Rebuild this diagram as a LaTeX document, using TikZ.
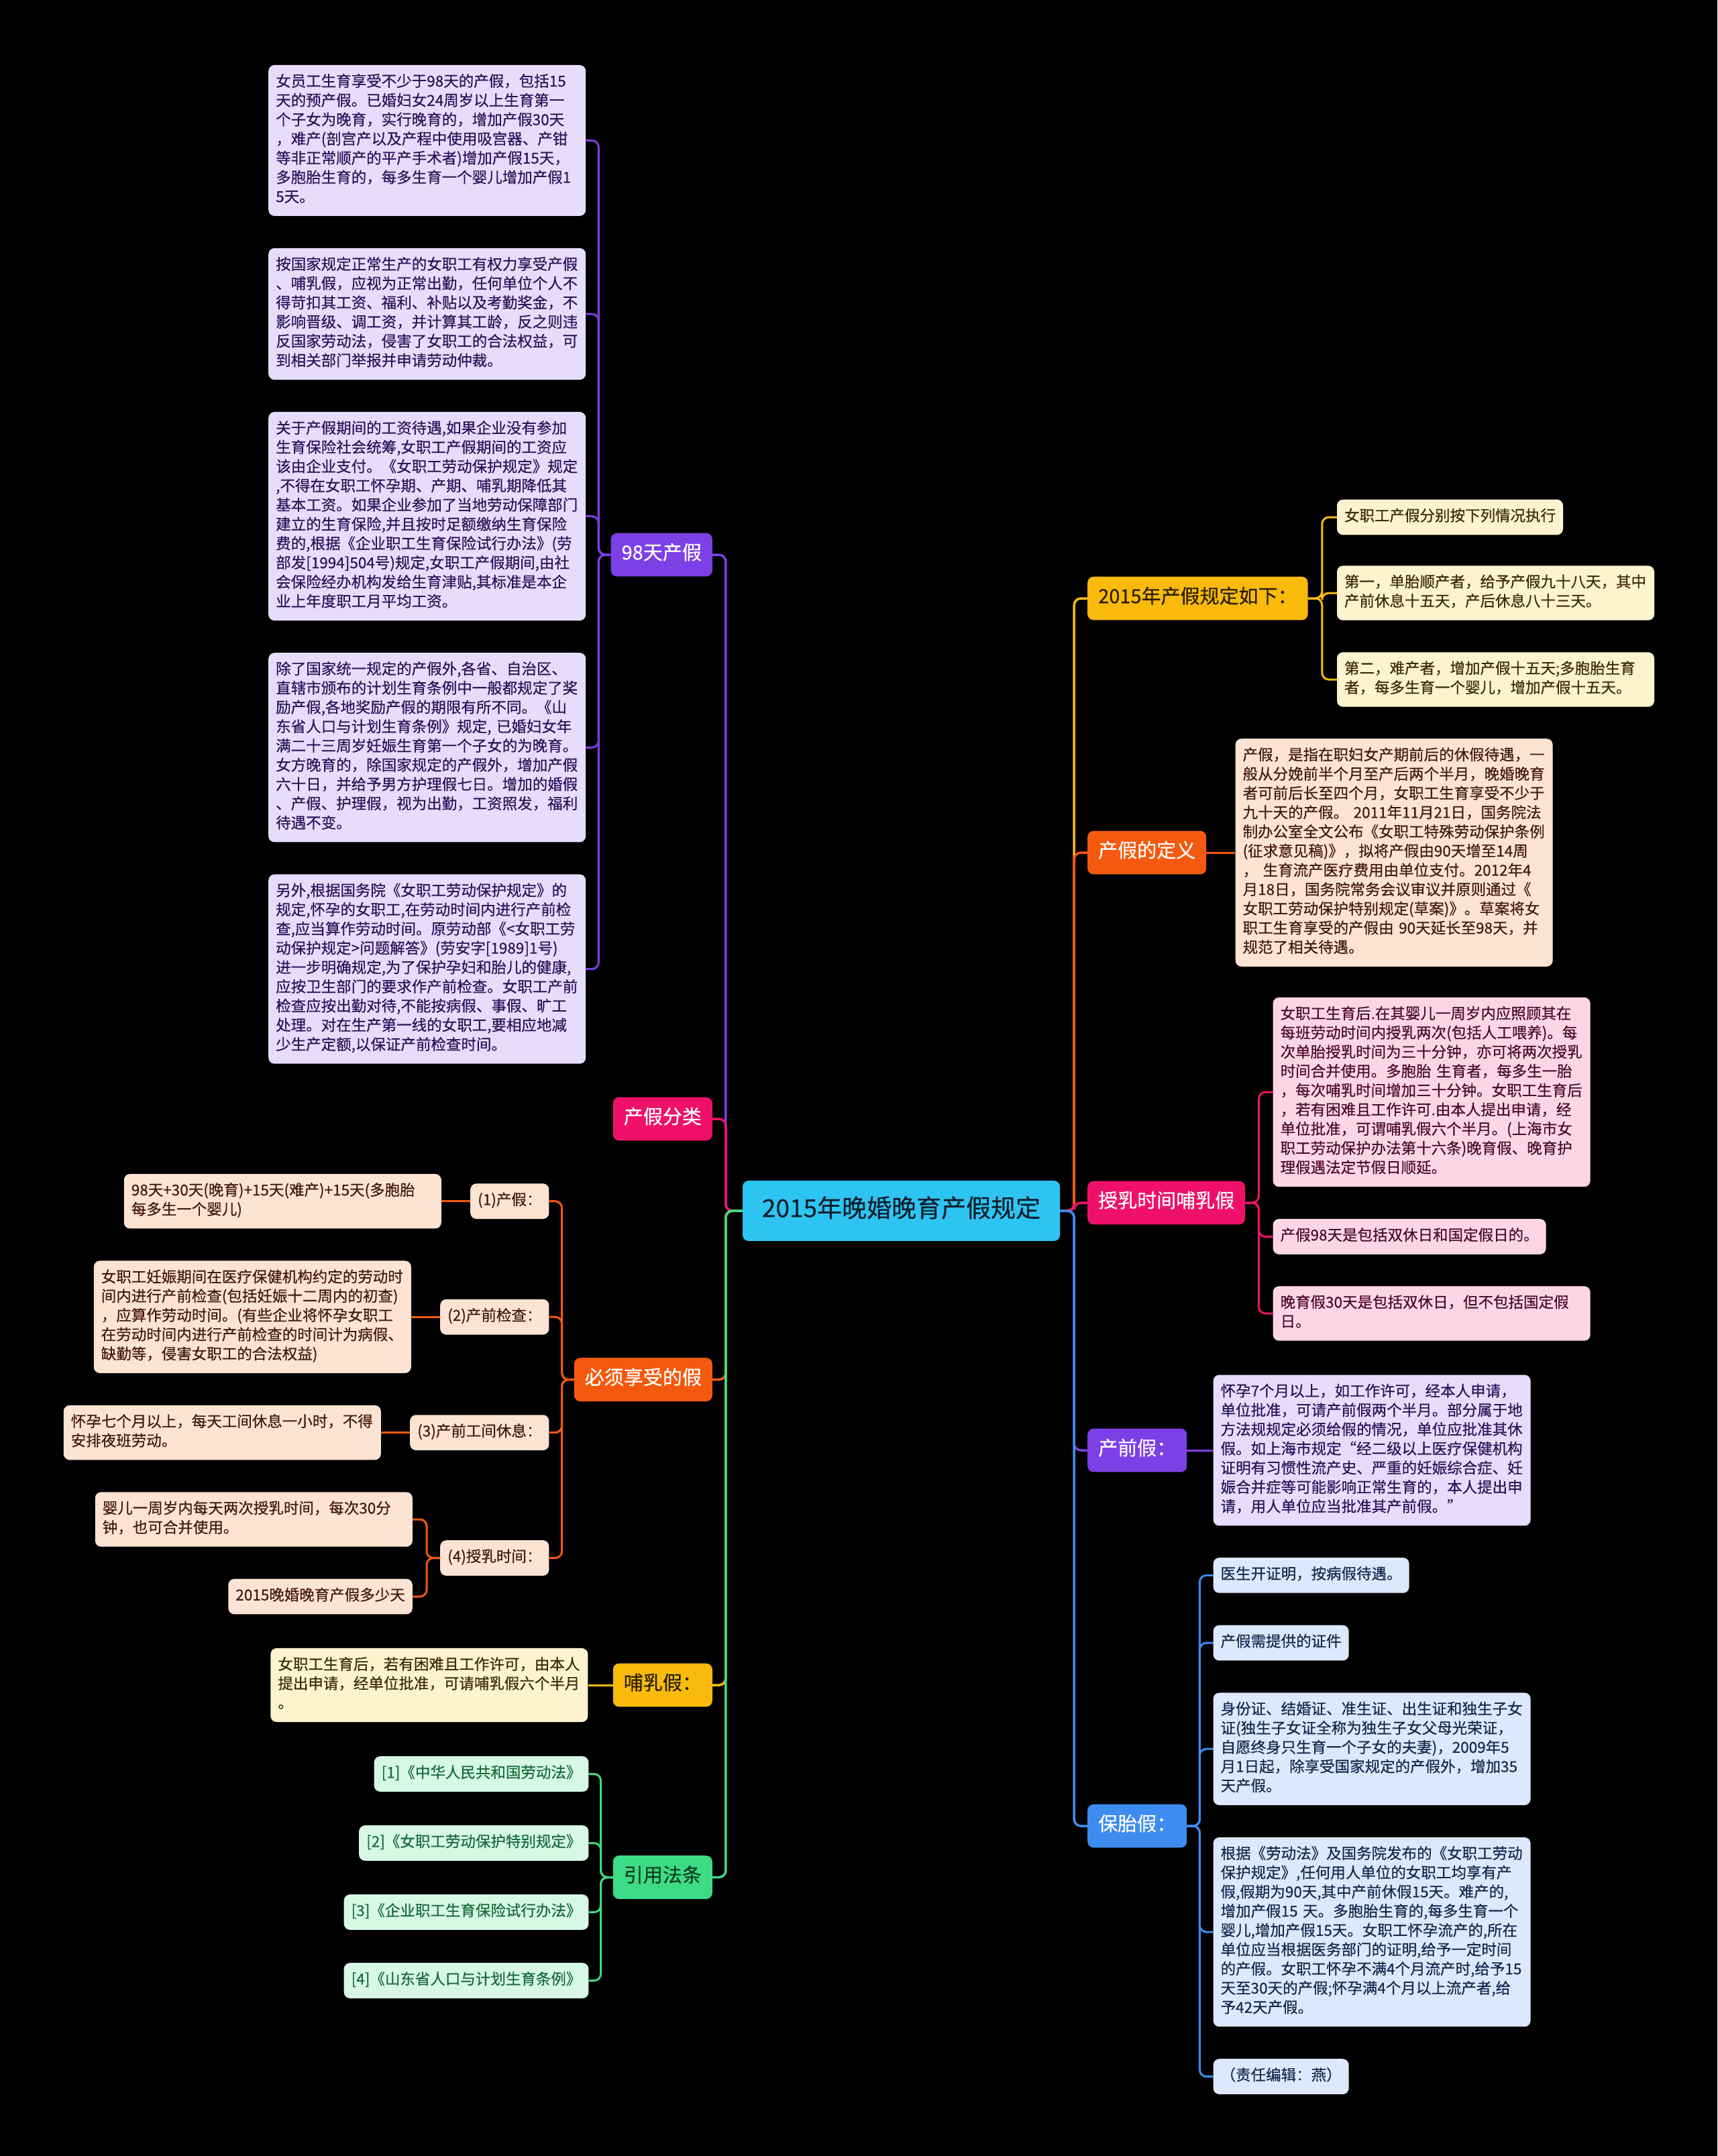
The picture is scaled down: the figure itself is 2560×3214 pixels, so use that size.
\documentclass[tikz,border=0pt]{standalone}
\usepackage{fontspec}
\newfontfamily\cjk[FakeBold=0.45]{Noto Sans CJK SC}
\usetikzlibrary{calc}
\pgfdeclarelayer{bg}
\pgfsetlayers{bg,main}
\definecolor{cCyan}{HTML}{2EC4F2}
\definecolor{cRootT}{HTML}{10202C}
\definecolor{cPur}{HTML}{7D3FE6}
\definecolor{cPink}{HTML}{EF1169}
\definecolor{cOra}{HTML}{F5590F}
\definecolor{cYel}{HTML}{F9BA0B}
\definecolor{cGrn}{HTML}{3DDB84}
\definecolor{cBlu}{HTML}{3D8CF0}
\definecolor{tYelD}{HTML}{2A2000}
\definecolor{tGrnD}{HTML}{0F3D22}
\definecolor{lPur}{HTML}{E6DCFB}
\definecolor{tPur}{HTML}{2B1458}
\definecolor{lYel}{HTML}{FEF3CE}
\definecolor{tYel}{HTML}{3B2C06}
\definecolor{lOra}{HTML}{FDE3D3}
\definecolor{tOra}{HTML}{421A08}
\definecolor{lPink}{HTML}{FDD6E5}
\definecolor{tPink}{HTML}{4A0C28}
\definecolor{lGrn}{HTML}{D6F8E4}
\definecolor{tGrn}{HTML}{1A6A3C}
\definecolor{lBlu}{HTML}{DCE8FB}
\definecolor{tBlu}{HTML}{15284C}
\tikzset{
  nd/.style={rectangle, rounded corners=9pt, align=left, execute at begin node=\strut, execute at end node=\strut},
  lf/.style={nd, font=\cjk\fontsize{22.5}{28.7}\selectfont, inner xsep=11pt, inner ysep=12pt},
  wd/.style={text width=451pt},
  lone/.style={nd, font=\cjk\fontsize{29}{34}\selectfont, inner xsep=16pt, inner ysep=15pt},
  root/.style={nd, font=\cjk\fontsize{37}{42}\selectfont, inner xsep=18pt, inner ysep=23pt, minimum width=473pt, fill=cCyan, text=cRootT, align=center},
  sPur/.style={lf, fill=lPur, text=tPur},
  sYel/.style={lf, fill=lYel, text=tYel},
  sOra/.style={lf, fill=lOra, text=tOra},
  sPink/.style={lf, fill=lPink, text=tPink},
  sGrn/.style={lf, fill=lGrn, text=tGrn},
  sBlu/.style={lf, fill=lBlu, text=tBlu},
  cn1/.style={line width=3.5pt, rounded corners=10pt},
  cn2/.style={line width=3pt, rounded corners=10pt}
}
\begin{document}
\begin{tikzpicture}[x=1pt,y=-1pt]
\useasboundingbox (0,0) rectangle (2560,3214);
% root
\node[root] (c) at (1343.5,1805) {2015年晚婚晚育产假规定};
% left level 1
\node[lone, fill=cPur, text=white, anchor=east] (n98) at (1062,827) {98天产假};
\node[lone, fill=cPink, text=white, anchor=east] (nfl) at (1062,1668) {产假分类};
\node[lone, fill=cOra, text=white, anchor=east] (nbx) at (1062,2056.6) {必须享受的假};
\node[lone, fill=cYel, text=tYelD, anchor=east] (nbr) at (1062,2512) {哺乳假：};
\node[lone, fill=cGrn, text=tGrnD, anchor=east] (nyy) at (1062,2798.5) {引用法条};
% right level 1
\node[lone, fill=cYel, text=tYelD, anchor=west] (n15) at (1621,892) {2015年产假规定如下：};
\node[lone, fill=cOra, text=white, anchor=west] (ndy) at (1621,1271) {产假的定义};
\node[lone, fill=cPink, text=white, anchor=west] (nsr) at (1621,1793) {授乳时间哺乳假};
\node[lone, fill=cPur, text=white, anchor=west] (ncq) at (1621,2162) {产前假：};
\node[lone, fill=cBlu, text=white, anchor=west] (nbt) at (1621,2722) {保胎假：};

% 98天产假 leaves
\coordinate (k98) at ([xshift=-37pt]n98.west);
\node[sPur, wd, anchor=east] (b1) at (k98 |- 0,209.45) {女员工生育享受不少于98天的产假，包括15\\天的预产假。已婚妇女24周岁以上生育第一\\个子女为晚育，实行晚育的，增加产假30天\\，难产(剖宫产以及产程中使用吸宫器、产钳\\等非正常顺产的平产手术者)增加产假15天，\\多胞胎生育的，每多生育一个婴儿增加产假1\\5天。};
\node[sPur, wd, anchor=east] (b2) at (k98 |- 0,468) {按国家规定正常生产的女职工有权力享受产假\\、哺乳假，应视为正常出勤，任何单位个人不\\得苛扣其工资、福利、补贴以及考勤奖金，不\\影响晋级、调工资，并计算其工龄，反之则违\\反国家劳动法，侵害了女职工的合法权益，可\\到相关部门举报并申请劳动仲裁。};
\node[sPur, wd, anchor=east] (b3) at (k98 |- 0,769.6) {关于产假期间的工资待遇,如果企业没有参加\\生育保险社会统筹,女职工产假期间的工资应\\该由企业支付。《女职工劳动保护规定》规定\\,不得在女职工怀孕期、产期、哺乳期降低其\\基本工资。如果企业参加了当地劳动保障部门\\建立的生育保险,并且按时足额缴纳生育保险\\费的,根据《企业职工生育保险试行办法》(劳\\部发[1994]504号)规定,女职工产假期间,由社\\会保险经办机构发给生育津贴,其标准是本企\\业上年度职工月平均工资。};
\node[sPur, wd, anchor=east] (b4) at (k98 |- 0,1114.25) {除了国家统一规定的产假外,各省、自治区、\\直辖市颁布的计划生育条例中一般都规定了奖\\励产假,各地奖励产假的期限有所不同。《山\\东省人口与计划生育条例》规定, 已婚妇女年\\满二十三周岁妊娠生育第一个子女的为晚育。\\女方晚育的，除国家规定的产假外，增加产假\\六十日，并给予男方护理假七日。增加的婚假\\、产假、护理假，视为出勤，工资照发，福利\\待遇不变。};
\node[sPur, wd, anchor=east] (b5) at (k98 |- 0,1444.55) {另外,根据国务院《女职工劳动保护规定》的\\规定,怀孕的女职工,在劳动时间内进行产前检\\查,应当算作劳动时间。原劳动部《<女职工劳\\动保护规定>问题解答》(劳安字[1989]1号)\\进一步明确规定,为了保护孕妇和胎儿的健康,\\应按卫生部门的要求作产前检查。女职工产前\\检查应按出勤对待,不能按病假、事假、旷工\\处理。对在生产第一线的女职工,要相应地减\\少生产定额,以保证产前检查时间。};

% 必须享受的假
\coordinate (kbx) at ([xshift=-37pt]nbx.west);
\node[sOra, anchor=east] (s1) at (kbx |- 0,1790.7) {(1)产假：};
\node[sOra, anchor=east] (s2) at (kbx |- 0,1963.2) {(2)产前检查：};
\node[sOra, anchor=east] (s3) at (kbx |- 0,2135.6) {(3)产前工间休息：};
\node[sOra, anchor=east] (s4) at (kbx |- 0,2322.5) {(4)授乳时间：};
\node[sOra, wd, anchor=east] (a1) at ([xshift=-43pt]s1.west) {98天+30天(晚育)+15天(难产)+15天(多胞胎\\每多生一个婴儿)};
\node[sOra, wd, anchor=east] (a2) at ([xshift=-43pt]s2.west) {女职工妊娠期间在医疗保健机构约定的劳动时\\间内进行产前检查(包括妊娠十二周内的初查)\\，应算作劳动时间。(有些企业将怀孕女职工\\在劳动时间内进行产前检查的时间计为病假、\\缺勤等，侵害女职工的合法权益)};
\node[sOra, wd, anchor=east] (a3) at ([xshift=-43pt]s3.west) {怀孕七个月以上，每天工间休息一小时，不得\\安排夜班劳动。};
\coordinate (ks4) at ([xshift=-41pt]s4.west);
\node[sOra, wd, anchor=east] (a4) at (ks4 |- 0,2265) {婴儿一周岁内每天两次授乳时间，每次30分\\钟，也可合并使用。};
\node[sOra, anchor=east] (a5) at (ks4 |- 0,2380) {2015晚婚晚育产假多少天};

% 哺乳假
\node[sYel, wd, anchor=east] (h1) at ([xshift=-37pt]nbr.west) {女职工生育后，若有困难且工作许可，由本人\\提出申请，经单位批准，可请哺乳假六个半月\\。};

% 引用法条
\coordinate (kyy) at ([xshift=-36pt]nyy.west);
\node[sGrn, anchor=east] (l1) at (kyy |- 0,2644.5) {[1]《中华人民共和国劳动法》};
\node[sGrn, anchor=east] (l2) at (kyy |- 0,2747.5) {[2]《女职工劳动保护特别规定》};
\node[sGrn, anchor=east] (l3) at (kyy |- 0,2850.5) {[3]《企业职工生育保险试行办法》};
\node[sGrn, anchor=east] (l4) at (kyy |- 0,2952.5) {[4]《山东省人口与计划生育条例》};

% 2015 leaves
\coordinate (k15) at ([xshift=43pt]n15.east);
\node[sYel, anchor=west] (y1) at (k15 |- 0,771) {女职工产假分别按下列情况执行};
\node[sYel, wd, anchor=west] (y2) at (k15 |- 0,884) {第一，单胎顺产者，给予产假九十八天，其中\\产前休息十五天，产后休息八十三天。};
\node[sYel, wd, anchor=west] (y3) at (k15 |- 0,1013) {第二，难产者，增加产假十五天;多胞胎生育\\者，每多生育一个婴儿，增加产假十五天。};

% 产假的定义
\node[sOra, wd, anchor=west] (d1) at ([xshift=43pt]ndy.east) {产假，是指在职妇女产期前后的休假待遇，一\\般从分娩前半个月至产后两个半月，晚婚晚育\\者可前后长至四个月，女职工生育享受不少于\\九十天的产假。 2011年11月21日，国务院法\\制办公室全文公布《女职工特殊劳动保护条例\\(征求意见稿)》，拟将产假由90天增至14周\\， 生育流产医疗费用由单位支付。2012年4\\月18日，国务院常务会议审议并原则通过《\\女职工劳动保护特别规定(草案)》。草案将女\\职工生育享受的产假由 90天延长至98天，并\\规范了相关待遇。};

% 授乳时间哺乳假
\coordinate (ksr) at ([xshift=41pt]nsr.east);
\node[sPink, wd, anchor=west] (p1) at (ksr |- 0,1628) {女职工生育后.在其婴儿一周岁内应照顾其在\\每班劳动时间内授乳两次(包括人工喂养)。每\\次单胎授乳时间为三十分钟，亦可将两次授乳\\时间合并使用。多胞胎 生育者，每多生一胎\\，每次哺乳时间增加三十分钟。女职工生育后\\，若有困难且工作许可.由本人提出申请，经\\单位批准，可谓哺乳假六个半月。(上海市女\\职工劳动保护办法第十六条)晚育假、晚育护\\理假遇法定节假日顺延。};
\node[sPink, anchor=west] (p2) at (ksr |- 0,1843.5) {产假98天是包括双休日和国定假日的。};
\node[sPink, wd, anchor=west] (p3) at (ksr |- 0,1958) {晚育假30天是包括双休日，但不包括国定假\\日。};

% 产前假
\node[sPur, wd, anchor=west] (c1) at ([xshift=39pt]ncq.east) {怀孕7个月以上，如工作许可，经本人申请，\\单位批准，可请产前假两个半月。部分属于地\\方法规规定必须给假的情况，单位应批准其休\\假。如上海市规定“经二级以上医疗保健机构\\证明有习惯性流产史、严重的妊娠综合症、妊\\娠合并症等可能影响正常生育的，本人提出申\\请，用人单位应当批准其产前假。”};

% 保胎假
\coordinate (kbt) at ([xshift=39pt]nbt.east);
\node[sBlu, anchor=west] (q1) at (kbt |- 0,2348.35) {医生开证明，按病假待遇。};
\node[sBlu, anchor=west] (q2) at (kbt |- 0,2449.05) {产假需提供的证件};
\node[sBlu, wd, anchor=west] (q3) at (kbt |- 0,2607.15) {身份证、结婚证、准生证、出生证和独生子女\\证(独生子女证全称为独生子女父母光荣证，\\自愿终身只生育一个子女的夫妻)，2009年5\\月1日起，除享受国家规定的产假外，增加35\\天产假。};
\node[sBlu, wd, anchor=west] (q4) at (kbt |- 0,2880.05) {根据《劳动法》及国务院发布的《女职工劳动\\保护规定》,任何用人单位的女职工均享有产\\假,假期为90天,其中产前休假15天。难产的,\\增加产假15 天。多胞胎生育的,每多生育一个\\婴儿,增加产假15天。女职工怀孕流产的,所在\\单位应当根据医务部门的证明,给予一定时间\\的产假。女职工怀孕不满4个月流产时,给予15\\天至30天的产假;怀孕满4个月以上流产者,给\\予42天产假。};
\node[sBlu, anchor=west] (q5) at (kbt |- 0,3095.55) {（责任编辑：燕）};

\begin{pgfonlayer}{bg}
\fill[black] (0,0) rectangle (2560,3214);
% root to level 1
\draw[cn1, cPur] (c.west) -- ++(-25,0) |- (n98.east);
\draw[cn1, cPink] (c.west) -- ++(-25,0) |- (nfl.east);
\draw[cn1, cOra] (c.west) -- ++(-25,0) |- (nbx.east);
\draw[cn1, cYel] (c.west) -- ++(-25,0) |- (nbr.east);
\draw[cn1, cGrn] (c.west) -- ++(-25,0) |- (nyy.east);
\draw[cn1, cYel] (c.east) -- ++(21,0) |- (n15.west);
\draw[cn1, cOra] (c.east) -- ++(21,0) |- (ndy.west);
\draw[cn1, cPink] (c.east) -- ++(21,0) |- (nsr.west);
\draw[cn1, cPur] (c.east) -- ++(21,0) |- (ncq.west);
\draw[cn1, cBlu] (c.east) -- ++(21,0) |- (nbt.west);
% level 2
\foreach \t in {b1,b2,b3,b4,b5} \draw[cn2, cPur] (n98.west) -- ++(-18,0) |- (\t.east);
\foreach \t in {s1,s2,s3,s4} \draw[cn2, cOra] (nbx.west) -- ++(-18,0) |- (\t.east);
\draw[cn2, cOra] (s1.west) -- (a1.east);
\draw[cn2, cOra] (s2.west) -- (a2.east);
\draw[cn2, cOra] (s3.west) -- (a3.east);
\foreach \t in {a4,a5} \draw[cn2, cOra] (s4.west) -- ++(-20,0) |- (\t.east);
\draw[cn2, cYel] (nbr.west) -- (h1.east);
\foreach \t in {l1,l2,l3,l4} \draw[cn2, cGrn] (nyy.west) -- ++(-18,0) |- (\t.east);
\foreach \t in {y1,y2,y3} \draw[cn2, cYel] (n15.east) -- ++(21,0) |- (\t.west);
\draw[cn2, cOra] (ndy.east) -- (d1.west);
\foreach \t in {p1,p2,p3} \draw[cn2, cPink] (nsr.east) -- ++(20,0) |- (\t.west);
\draw[cn2, cPur] (ncq.east) -- (c1.west);
\foreach \t in {q1,q2,q3,q4,q5} \draw[cn2, cBlu] (nbt.east) -- ++(19,0) |- (\t.west);
\end{pgfonlayer}
\end{tikzpicture}
\end{document}
